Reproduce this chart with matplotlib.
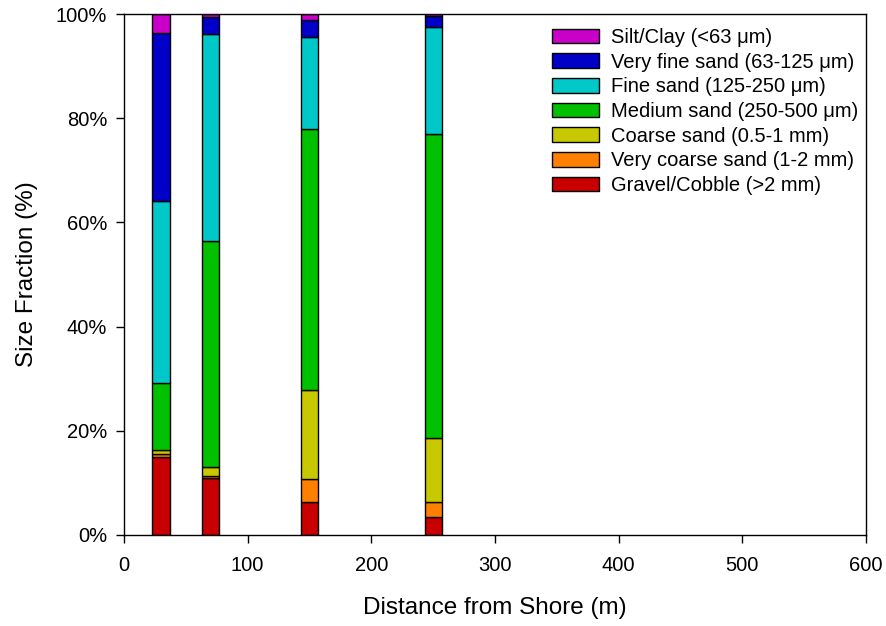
import matplotlib
matplotlib.use("Agg")
import matplotlib.pyplot as plt
import numpy as np
from matplotlib.ticker import FuncFormatter

plt.rcParams["font.family"] = ["Liberation Sans", "DejaVu Sans"]

# distance from shore (m)
distance = [30, 70, 150, 250]

# size fractions (%), bottom to top
gravel = [15.0, 10.9, 6.4, 3.5]
very_coarse = [0.6, 0.5, 4.3, 2.8]
coarse = [0.8, 1.7, 17.1, 12.3]
medium = [12.8, 43.4, 50.1, 58.4]
fine = [35.0, 39.7, 17.7, 20.6]
very_fine = [32.1, 3.3, 3.2, 2.0]
silt = [3.7, 0.5, 1.2, 0.4]

fractions = [gravel, very_coarse, coarse, medium, fine, very_fine, silt]
labels = [
    "Gravel/Cobble (>2 mm)",
    "Very coarse sand (1-2 mm)",
    "Coarse sand (0.5-1 mm)",
    "Medium sand (250-500 \u03bcm)",
    "Fine sand (125-250 \u03bcm)",
    "Very fine sand (63-125 \u03bcm)",
    "Silt/Clay (<63 \u03bcm)",
]
colors = ["#c80000", "#ff8000", "#c8c800", "#00c000", "#00c8c8", "#0000c8", "#c800c8"]

fig = plt.figure(figsize=(8.86, 6.26), dpi=100)
ax = fig.add_axes([124 / 886, 1 - 535 / 626, 742 / 886, 521 / 626])

bottom = np.zeros(len(distance))
for vals, lab, col in zip(fractions, labels, colors):
    ax.bar(distance, vals, width=14, bottom=bottom, color=col,
           edgecolor="black", linewidth=1.0, label=lab)
    bottom += np.array(vals)

ax.set_xlim(0, 600)
ax.set_ylim(0, 100)
ax.set_xticks(range(0, 601, 100))
ax.set_yticks(range(0, 101, 20))
ax.yaxis.set_major_formatter(FuncFormatter(lambda v, p: f"{v:.0f}%"))
ax.tick_params(direction="out", length=6, width=1, labelsize=14.5)
ax.tick_params(axis="x", pad=9)
ax.tick_params(axis="y", pad=6)
for s in ax.spines.values():
    s.set_linewidth(1.0)

ax.set_xlabel("Distance from Shore (m)", fontsize=17.5, labelpad=16)
ax.set_ylabel("Size Fraction (%)", fontsize=17.5, labelpad=13)

handles, labs = ax.get_legend_handles_labels()
ax.legend(handles[::-1], labs[::-1], loc="upper right", frameon=False,
          fontsize=14.5, handlelength=2.35, handleheight=0.73, labelspacing=0.28,
          handletextpad=0.6, borderaxespad=0.3, bbox_to_anchor=(1.009, 1.0))

fig.savefig("out.png", dpi=100)
